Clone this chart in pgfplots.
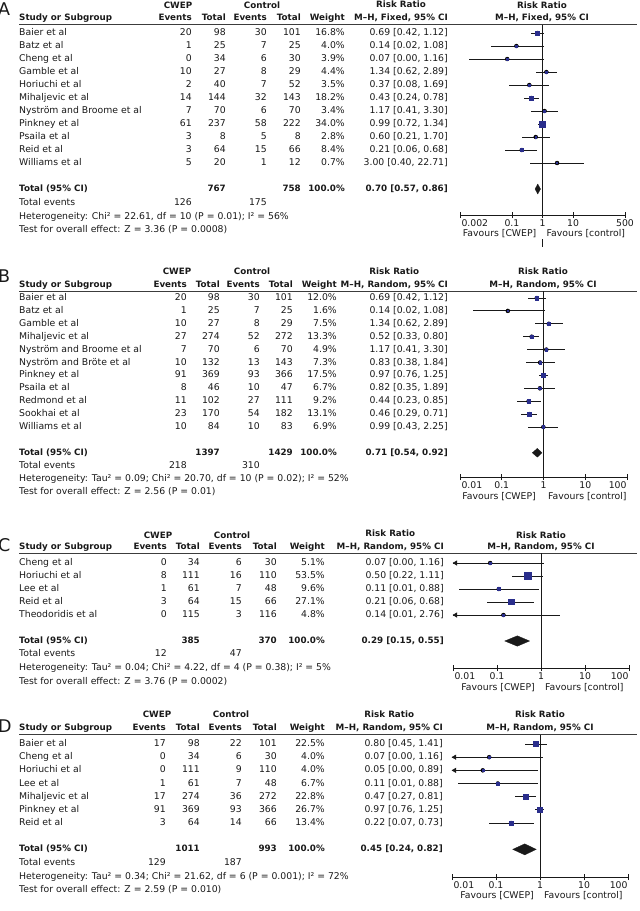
\documentclass[border=0pt]{standalone}
\usepackage{fontspec}
\setmainfont{DejaVu Sans}
\usepackage{pgfplots}
\usepackage{pgfplotstable}
\pgfplotsset{compat=1.18}

\definecolor{sq}{RGB}{42,46,140}
\definecolor{ink}{RGB}{25,25,25}

\pgfplotsset{
  every axis/.append style={
    scale only axis, xmode=log, anchor=south west,
    axis x line=bottom, axis y line=none,
    axis line style={-, line width=0.8pt, ink},
    xminorticks=false, tick align=center, major tick length=6pt,
    tick style={line width=0.8pt, ink},
    xticklabel style={yshift=2pt, text=ink},
    clip=false,
  },
}
\tikzset{
  tx/.style={inner sep=0pt, text=ink},
  txb/.style={tx, font=\bfseries\fontsize{8.75}{10}\selectfont},
  rule/.style={draw=ink!85, line width=0.9pt},
  ci/.style={draw=ink, line width=0.9pt},
}

% forest data: row, risk ratio, lower, upper, weight (%)
\pgfplotstableread{
r rr lo hi w
1 0.69 0.42 1.12 16.8
2 0.14 0.02 1.08 4.0
3 0.07 0.004 1.16 3.9
4 1.34 0.62 2.89 4.4
5 0.37 0.08 1.69 3.5
6 0.43 0.24 0.78 18.2
7 1.17 0.41 3.30 3.4
8 0.99 0.72 1.34 34.0
9 0.60 0.21 1.70 2.8
10 0.21 0.06 0.68 8.4
11 3.00 0.40 22.71 0.7
}\dA
\pgfplotstableread{
r rr lo hi w
1 0.69 0.42 1.12 12.0
2 0.14 0.02 1.08 1.6
3 1.34 0.62 2.89 7.5
4 0.52 0.33 0.80 13.3
5 1.17 0.41 3.30 4.9
6 0.83 0.38 1.84 7.3
7 0.97 0.76 1.25 17.5
8 0.82 0.35 1.89 6.7
9 0.44 0.23 0.85 9.2
10 0.46 0.29 0.71 13.1
11 0.99 0.43 2.25 6.9
}\dB
\pgfplotstableread{
r rr lo hi w
1 0.07 0.01 1.16 5.1
2 0.50 0.22 1.11 53.5
3 0.11 0.014 0.88 9.6
4 0.21 0.06 0.68 27.1
5 0.14 0.01 2.76 4.8
}\dC
\pgfplotstableread{
r rr lo hi w
1 0.80 0.45 1.41 22.5
2 0.07 0.01 1.16 4.0
3 0.05 0.01 0.89 4.0
4 0.11 0.014 0.88 6.7
5 0.47 0.27 0.81 22.8
6 0.97 0.76 1.25 26.7
7 0.22 0.07 0.73 13.4
}\dD

\newcommand\setcols[6]{\def\ce{#1}\def\ct{#2}\def\cf{#3}\def\cg{#4}\def\cw{#5}\def\cc{#6}}
\newcommand\header[7]{%
  \node[txb,anchor=mid] at (#4,#1) {CWEP};
  \node[txb,anchor=mid] at (#5,#1) {Control};
  \node[txb,anchor=mid west] at (19,#2) {Study or Subgroup};
  \node[txb,anchor=mid east] at (\ce,#2) {Events};
  \node[txb,anchor=mid east] at (\ct,#2) {Total};
  \node[txb,anchor=mid east] at (\cf,#2) {Events};
  \node[txb,anchor=mid east] at (\cg,#2) {Total};
  \node[txb,anchor=mid east] at (\cw,#2) {Weight};
  \node[txb,anchor=mid east] (mh) at (\cc,#2) {M–H, #7, 95\% CI};
  \node[txb,anchor=mid] at ([yshift=13pt]mh.mid) {Risk Ratio};
  \node[txb,anchor=mid] at (#6,#1) {Risk Ratio};
  \node[txb,anchor=mid] at (#6,#2) {M–H, #7, 95\% CI};
  \draw[rule] (19,#3) -- (637,#3);
}
\newcommand\srow[8]{%
  \node[tx,anchor=mid west] at (19,#1) {#2};
  \node[tx,anchor=mid east] at (\ce,#1) {#3};
  \node[tx,anchor=mid east] at (\ct,#1) {#4};
  \node[tx,anchor=mid east] at (\cf,#1) {#5};
  \node[tx,anchor=mid east] at (\cg,#1) {#6};
  \node[tx,anchor=mid east] at (\cw,#1) {#7\%};
  \node[tx,anchor=mid east] at (\cc,#1) {#8};
}
\newcommand\trow[4]{%
  \node[txb,anchor=mid west] at (19,#1) {Total (95\% CI)};
  \node[txb,anchor=mid east] at (\ct,#1) {#2};
  \node[txb,anchor=mid east] at (\cg,#1) {#3};
  \node[txb,anchor=mid east] at (\cw,#1) {100.0\%};
  \node[txb,anchor=mid east] at (\cc,#1) {#4};
}
\newcommand\foot[7]{%
  \node[tx,anchor=mid west] at (19,#1) {Total events};
  \node[tx,anchor=mid east] at (\ce,#1) {#4};
  \node[tx,anchor=mid east] at (\cf,#1) {#5};
  \node[tx,anchor=mid west] at (19,#2) {#6};
  \node[tx,anchor=mid west] at (19,#3) {#7};
}
\newcommand\favours[3]{%
  \node[tx,anchor=mid east] at (#1,#3) {Favours [CWEP]};
  \node[tx,anchor=mid west] at (#2,#3) {Favours [control]};
}
\newcommand\forestplots[1]{%
  \draw[ci] ({axis cs:1,0}|-{rel axis cs:0,0}) -- ({axis cs:1,0}|-{rel axis cs:0,1});
  \addplot[only marks, mark=none, error bars/x dir=both, error bars/x explicit,
    error bars/error mark=none, error bars/error bar style={ci}]
    table[x=rr, y expr=-\thisrow{r},
      x error plus expr=\thisrow{hi}-\thisrow{rr},
      x error minus expr=\thisrow{rr}-\thisrow{lo}] {#1};
  \addplot[scatter, only marks, mark=square*,
    scatter/use mapped color={draw=sq, fill=sq},
    visualization depends on={max(0.45,0.5*sqrt(\thisrow{w})) \as \ms},
    scatter/@pre marker code/.append style={/tikz/mark size=\ms}]
    table[x=rr, y expr=-\thisrow{r}] {#1};
}

\begin{document}
\fontsize{9.3}{11}\selectfont
\begin{tikzpicture}[x=1pt, y=-1pt]
\useasboundingbox (0,0) rectangle (640,911);

% ---------------- A ----------------
\node[tx, anchor=mid west, font=\fontsize{17.5}{18}\selectfont] at (-2,13) {A};
\setcols{192}{226}{267}{301}{345}{448}
\header{5.5}{18}{24.5}{178}{262}{542}{Fixed}
\srow{33}{Baier et al}{20}{98}{30}{101}{16.8}{0.69 [0.42, 1.12]}
\srow{46}{Batz et al}{1}{25}{7}{25}{4.0}{0.14 [0.02, 1.08]}
\srow{59}{Cheng et al}{0}{34}{6}{30}{3.9}{0.07 [0.00, 1.16]}
\srow{72}{Gamble et al}{10}{27}{8}{29}{4.4}{1.34 [0.62, 2.89]}
\srow{85}{Horiuchi et al}{2}{40}{7}{52}{3.5}{0.37 [0.08, 1.69]}
\srow{98}{Mihaljevic et al}{14}{144}{32}{143}{18.2}{0.43 [0.24, 0.78]}
\srow{111}{Nyström and Broome et al}{7}{70}{6}{70}{3.4}{1.17 [0.41, 3.30]}
\srow{124}{Pinkney et al}{61}{237}{58}{222}{34.0}{0.99 [0.72, 1.34]}
\srow{137}{Psaila et al}{3}{8}{5}{8}{2.8}{0.60 [0.21, 1.70]}
\srow{150}{Reid et al}{3}{64}{15}{66}{8.4}{0.21 [0.06, 0.68]}
\srow{163}{Williams et al}{5}{20}{1}{12}{0.7}{3.00 [0.40, 22.71]}
\trow{189}{767}{758}{0.70 [0.57, 0.86]}
\foot{203}{217}{230}{126}{175}{Heterogeneity: Chi² = 22.61, df = 10 (P = 0.01); I² = 56\%}{Test for overall effect: Z = 3.36 (P = 0.0008)}
\begin{axis}[at={(460pt,-215pt)}, width=165pt, height=190.5pt,
  xmin=0.002, xmax=500, ymin=-15, ymax=-0.346,
  xtick={0.002,0.1,1,10,500},
  xticklabels={\rlap{\hspace{1.5pt}0.002},0.1,1,10,500}]
  \forestplots{\dA}
  \addplot[fill=ink, draw=ink, line width=0.3pt] coordinates
    {(0.57,-13) (0.70,-12.62) (0.86,-13) (0.70,-13.38)} -- cycle;
\end{axis}
\favours{536.5}{546.5}{234}
\draw[ci] (542.5,239) -- (542.5,247);

% ---------------- B ----------------
\node[tx, anchor=mid west, font=\fontsize{17.5}{18}\selectfont] at (-2,279.5) {B};
\setcols{187}{220}{260}{293}{337}{448}
\header{272}{285}{291}{177}{252}{543}{Random}
\srow{298}{Baier et al}{20}{98}{30}{101}{12.0}{0.69 [0.42, 1.12]}
\srow{310.9}{Batz et al}{1}{25}{7}{25}{1.6}{0.14 [0.02, 1.08]}
\srow{323.8}{Gamble et al}{10}{27}{8}{29}{7.5}{1.34 [0.62, 2.89]}
\srow{336.7}{Mihaljevic et al}{27}{274}{52}{272}{13.3}{0.52 [0.33, 0.80]}
\srow{349.6}{Nyström and Broome et al}{7}{70}{6}{70}{4.9}{1.17 [0.41, 3.30]}
\srow{362.5}{Nyström and Bröte et al}{10}{132}{13}{143}{7.3}{0.83 [0.38, 1.84]}
\srow{375.4}{Pinkney et al}{91}{369}{93}{366}{17.5}{0.97 [0.76, 1.25]}
\srow{388.3}{Psaila et al}{8}{46}{10}{47}{6.7}{0.82 [0.35, 1.89]}
\srow{401.2}{Redmond et al}{11}{102}{27}{111}{9.2}{0.44 [0.23, 0.85]}
\srow{414.1}{Sookhai et al}{23}{170}{54}{182}{13.1}{0.46 [0.29, 0.71]}
\srow{427}{Williams et al}{10}{84}{10}{83}{6.9}{0.99 [0.43, 2.25]}
\trow{452.8}{1397}{1429}{0.71 [0.54, 0.92]}
\foot{466}{479}{492}{218}{310}{Heterogeneity: Tau² = 0.09; Chi² = 20.70, df = 10 (P = 0.02); I² = 52\%}{Test for overall effect: Z = 2.56 (P = 0.01)}
\begin{axis}[at={(460pt,-477pt)}, width=167pt, height=186pt,
  xmin=0.01, xmax=100, ymin=-14.876, ymax=-0.457,
  xtick={0.01,0.1,1,10,100},
  xticklabels={\rlap{\hspace{1.5pt}0.01},0.1,1,10,\llap{100\hspace{0.5pt}}}]
  \forestplots{\dB}
  \addplot[fill=ink, draw=ink, line width=0.3pt] coordinates
    {(0.54,-13) (0.71,-12.66) (0.92,-13) (0.71,-13.34)} -- cycle;
\end{axis}
\favours{536}{548}{497}

% ---------------- C ----------------
\node[tx, anchor=mid west, font=\fontsize{17.5}{18}\selectfont] at (-2,549) {C};
\setcols{167}{200}{242}{277}{325}{444}
\header{536}{547}{553}{158}{232}{541}{Random}
\srow{563}{Cheng et al}{0}{34}{6}{30}{5.1}{0.07 [0.00, 1.16]}
\srow{576}{Horiuchi et al}{8}{111}{16}{110}{53.5}{0.50 [0.22, 1.11]}
\srow{589}{Lee et al}{1}{61}{7}{48}{9.6}{0.11 [0.01, 0.88]}
\srow{602}{Reid et al}{3}{64}{15}{66}{27.1}{0.21 [0.06, 0.68]}
\srow{615}{Theodoridis et al}{0}{115}{3}{116}{4.8}{0.14 [0.01, 2.76]}
\trow{641}{385}{370}{0.29 [0.15, 0.55]}
\foot{654}{668}{682}{12}{47}{Heterogeneity: Tau² = 0.04; Chi² = 4.22, df = 4 (P = 0.38); I² = 5\%}{Test for overall effect: Z = 3.76 (P = 0.0002)}
\begin{axis}[at={(453pt,-668pt)}, width=176pt, height=115pt,
  xmin=0.01, xmax=100, ymin=-9.077, ymax=-0.231,
  xtick={0.01,0.1,1,10,100},
  xticklabels={\rlap{\hspace{1.5pt}0.01},0.1,1,10,\llap{100\hspace{0.5pt}}}]
  \forestplots{\dC}
  \addplot[only marks, mark=triangle*, mark size=2.6pt,
    mark options={fill=ink, draw=ink, xshift=2.6pt, rotate=90}]
    coordinates {(0.01,-1) (0.01,-5)};
  \addplot[fill=ink, draw=ink, line width=0.3pt] coordinates
    {(0.15,-7) (0.29,-6.6) (0.55,-7) (0.29,-7.4)} -- cycle;
\end{axis}
\favours{535}{545}{688}

% ---------------- D ----------------
\node[tx, anchor=mid west, font=\fontsize{17.5}{18}\selectfont] at (-2,730) {D};
\setcols{166}{200}{242}{277}{325}{443}
\header{715}{728}{734.5}{157}{231}{540}{Random}
\srow{744}{Baier et al}{17}{98}{22}{101}{22.5}{0.80 [0.45, 1.41]}
\srow{757.2}{Cheng et al}{0}{34}{6}{30}{4.0}{0.07 [0.00, 1.16]}
\srow{770.3}{Horiuchi et al}{0}{111}{9}{110}{4.0}{0.05 [0.00, 0.89]}
\srow{783.5}{Lee et al}{1}{61}{7}{48}{6.7}{0.11 [0.01, 0.88]}
\srow{796.7}{Mihaljevic et al}{17}{274}{36}{272}{22.8}{0.47 [0.27, 0.81]}
\srow{809.9}{Pinkney et al}{91}{369}{93}{366}{26.7}{0.97 [0.76, 1.25]}
\srow{823}{Reid et al}{3}{64}{14}{66}{13.4}{0.22 [0.07, 0.73]}
\trow{849.4}{1011}{993}{0.45 [0.24, 0.82]}
\foot{863}{877}{890}{129}{187}{Heterogeneity: Tau² = 0.34; Chi² = 21.62, df = 6 (P = 0.001); I² = 72\%}{Test for overall effect: Z = 2.59 (P = 0.010)}
\begin{axis}[at={(452pt,-877pt)}, width=176pt, height=142.5pt,
  xmin=0.01, xmax=100, ymin=-11.099, ymax=-0.279,
  xtick={0.01,0.1,1,10,100},
  xticklabels={\rlap{\hspace{1.5pt}0.01},0.1,1,10,\llap{100\hspace{0.5pt}}}]
  \forestplots{\dD}
  \addplot[only marks, mark=triangle*, mark size=2.6pt,
    mark options={fill=ink, draw=ink, xshift=2.6pt, rotate=90}]
    coordinates {(0.01,-2) (0.01,-3)};
  \addplot[fill=ink, draw=ink, line width=0.3pt] coordinates
    {(0.24,-9) (0.45,-8.58) (0.82,-9) (0.45,-9.42)} -- cycle;
\end{axis}
\favours{534}{544}{896}
\end{tikzpicture}
\end{document}
